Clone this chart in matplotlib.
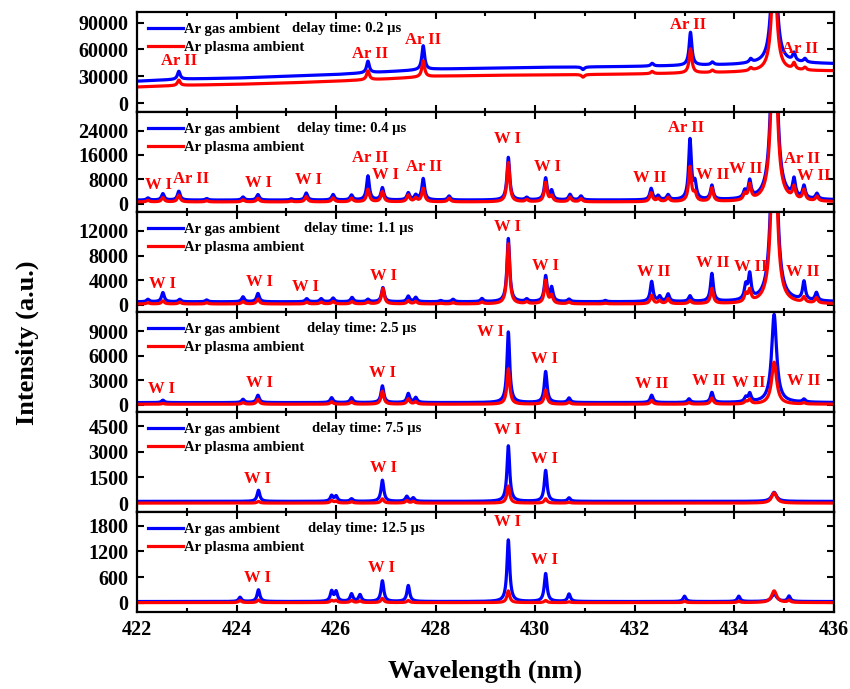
import numpy as np
import matplotlib
matplotlib.use("Agg")
import matplotlib.pyplot as plt
from matplotlib.ticker import MultipleLocator

plt.rcParams['font.family'] = ['Liberation Serif', 'DejaVu Serif']
plt.rcParams['font.weight'] = 'bold'

# delay times of the six panels
delays = ["0.2", "0.4", "1.1", "2.5", "7.5", "12.5"]

# baselines (gas, plasma) read at each integer nm 422..436
base_nm = np.arange(422, 437)
base_gas_02 = [24500, 27000, 28000, 30000, 32000, 35000, 38000, 39000, 40000, 40500, 41000, 42000, 43000, 45000, 44000]
base_pla_02 = [18000, 20000, 21000, 22500, 24500, 27000, 30000, 31000, 31500, 32000, 32500, 33500, 34500, 36000, 36000]
base_gas = [None, 1200, 500, 250, 100, 25]
base_pla = [None, 600, 150, 50, 0, 0]

# peaks: (wavelength nm, height above base for Ar gas, for Ar plasma)
peaks_02 = [(422.84, 9000, 6000), (426.64, 13000, 10000), (427.75, 27000, 18000),
            (430.96, -3000, -3000), (432.35, 3000, 2500), (433.12, 37000, 27000),
            (433.56, 3000, 2500), (434.33, 4000, 3000), (434.80, 150000, 120000),
            (435.20, 9000, 7000), (435.42, 4000, 3000)]
peaks_04 = [(422.22, 700, 500), (422.52, 2100, 1400), (422.84, 2900, 2200), (423.40, 500, 400),
            (424.13, 1000, 700), (424.43, 1800, 1200), (425.10, 400, 300), (425.40, 2300, 1700),
            (425.94, 1800, 1300), (426.31, 1600, 1200), (426.64, 7900, 4100), (426.93, 4000, 3400),
            (427.45, 2300, 2200), (427.60, 1500, 1200), (427.75, 7000, 4400), (428.27, 1300, 1200),
            (429.46, 14000, 12900), (429.83, 800, 700), (430.21, 7100, 6300), (430.33, 2900, 1800),
            (430.70, 1800, 1500), (430.92, 1300, 1000), (432.33, 3700, 2900), (432.47, 1300, 1000),
            (432.67, 1600, 1400), (433.11, 19600, 11300), (433.21, 5000, 2500), (433.55, 4600, 4400),
            (434.21, 2300, 2000), (434.31, 5500, 4900), (434.80, 80000, 70000), (435.20, 5700, 3900),
            (435.40, 4000, 3400), (435.66, 1800, 1500)]
peaks_11 = [(422.22, 400, 200), (422.52, 1500, 500), (422.86, 400, 300), (423.40, 300, 200),
            (424.13, 800, 400), (424.43, 1350, 800), (425.41, 500, 300), (425.70, 500, 300),
            (425.94, 600, 400), (426.32, 700, 400), (426.64, 400, 300), (426.94, 2300, 2500),
            (427.45, 900, 500), (427.60, 700, 400), (428.10, 200, 100), (428.35, 400, 200),
            (428.93, 500, 300), (429.46, 10250, 9750), (429.83, 400, 300), (430.21, 4100, 3750),
            (430.33, 2200, 1300), (430.68, 400, 300), (431.41, 200, 100), (432.34, 3250, 1350),
            (432.50, 800, 500), (432.67, 1200, 800), (433.11, 900, 500), (433.55, 4500, 2450),
            (434.23, 2200, 1300), (434.31, 3950, 1850), (434.80, 40000, 35000), (435.40, 3000, 850),
            (435.65, 1300, 850)]
peaks_25 = [(422.52, 300, 100), (424.13, 400, 200), (424.43, 900, 600), (425.91, 600, 300),
            (426.31, 600, 300), (426.93, 2050, 1600), (427.45, 1100, 650), (427.60, 600, 300),
            (429.46, 8650, 4330), (430.21, 3800, 1730), (430.68, 550, 250), (432.34, 900, 450),
            (433.09, 450, 200), (433.55, 1230, 750), (434.23, 550, 300), (434.31, 1000, 550),
            (434.80, 10800, 5150), (435.40, 350, 150)]
peaks_75 = [(424.44, 650, 100), (425.91, 330, 150), (426.00, 300, 100), (426.31, 150, 80),
            (426.93, 1240, 250), (427.42, 290, 150), (427.55, 200, 100), (429.46, 3250, 1000),
            (430.21, 1810, 250), (430.68, 200, 50), (434.80, 530, 600)]
peaks_125 = [(424.07, 100, 50), (424.44, 275, 60), (425.91, 235, 50), (426.00, 225, 50),
             (426.31, 175, 50), (426.48, 155, 40), (426.93, 485, 100), (427.45, 375, 50),
             (429.46, 1445, 275), (430.21, 655, 50), (430.68, 175, 20), (433.00, 125, 30),
             (434.09, 125, 30), (434.80, 175, 275), (435.10, 125, 50)]

# line identifications: (label, wavelength, height)
labels_02 = [("Ar II", 422.84, 47000), ("Ar II", 426.68, 54400), ("Ar II", 427.75, 71000),
             ("Ar II", 433.07, 87800), ("Ar II", 435.33, 60800)]
labels_04 = [("W I", 422.43, 6000), ("Ar II", 423.09, 8200), ("W I", 424.45, 6900),
             ("W I", 425.44, 7800), ("Ar II", 426.69, 14900), ("W I", 427.00, 9300),
             ("Ar II", 427.76, 12100), ("W I", 429.45, 21300), ("W I", 430.25, 12100),
             ("W II", 432.30, 8600), ("Ar II", 433.04, 24700), ("W II", 433.57, 9400),
             ("W II", 434.24, 11300), ("Ar II", 435.37, 14700), ("W II", 435.60, 9100)]
labels_11 = [("W I", 422.51, 3400), ("W I", 424.47, 3750), ("W I", 425.39, 2950),
             ("W I", 426.95, 4750), ("W I", 429.44, 12650), ("W I", 430.21, 6380),
             ("W II", 432.39, 5290), ("W II", 433.56, 6760), ("W II", 434.33, 6100),
             ("W II", 435.37, 5400)]
labels_25 = [("W I", 422.50, 1860), ("W I", 424.46, 2600), ("W I", 426.93, 3840),
             ("W I", 429.10, 8870), ("W I", 430.18, 5570), ("W II", 432.35, 2480),
             ("W II", 433.49, 2930), ("W II", 434.30, 2690), ("W II", 435.40, 2930)]
labels_75 = [("W I", 424.43, 1420), ("W I", 426.95, 2070), ("W I", 429.44, 4280), ("W I", 430.18, 2600)]
labels_125 = [("W I", 424.43, 580), ("W I", 426.92, 815), ("W I", 429.44, 1880), ("W I", 430.18, 990)]

ylims = [(-10000, 102000), (-2700, 30100), (-1150, 15060), (-900, 11350), (-520, 5330), (-220, 2125)]
yticks = [[0, 30000, 60000, 90000], [0, 8000, 16000, 24000], [0, 4000, 8000, 12000],
          [0, 3000, 6000, 9000], [0, 1500, 3000, 4500], [0, 600, 1200, 1800]]

all_peaks = [peaks_02, peaks_04, peaks_11, peaks_25, peaks_75, peaks_125]
all_labels = [labels_02, labels_04, labels_11, labels_25, labels_75, labels_125]

wl = np.linspace(422, 436, 2801)


def spectrum(base, peaks, col):
    y = np.array(base, dtype=float) * np.ones_like(wl)
    for p in peaks:
        g = 0.06 if p[0] == 434.80 else 0.033
        y += p[col] / (1 + ((wl - p[0]) / g) ** 2)
    return y


fig = plt.figure(figsize=(8.5, 6.89), dpi=100)
gs = fig.add_gridspec(6, 1, left=0.1612, right=0.981, top=0.9826, bottom=0.1118, hspace=0)
axes = [fig.add_subplot(gs[i]) for i in range(6)]

dx = [0.222, 0.2296, 0.2396, 0.244, 0.251, 0.245]

for i, ax in enumerate(axes):
    if i == 0:
        bg = np.interp(wl, base_nm, base_gas_02)
        bp = np.interp(wl, base_nm, base_pla_02)
    else:
        bg, bp = base_gas[i], base_pla[i]
    ax.plot(wl, spectrum(bg, all_peaks[i], 1), color='#0000ff', lw=2.3, label='Ar gas ambient')
    ax.plot(wl, spectrum(bp, all_peaks[i], 2), color='#ff0000', lw=2.3, label='Ar plasma ambient')
    for lab, x, y in all_labels[i]:
        ax.text(x, y, lab, color='#ff0000', fontsize=12, fontweight='bold', ha='center', va='center')
    ax.text(dx[i], 0.835, "delay time: " + delays[i] + " µs", transform=ax.transAxes,
            fontsize=10.5, fontweight='bold', va='center', ha='left')
    ax.legend(loc='upper left', frameon=False, fontsize=10.5, handlelength=2.4,
              handletextpad=0.1, labelspacing=0.35, borderaxespad=0.3, borderpad=0.45)
    ax.set_xlim(422, 436)
    ax.set_ylim(*ylims[i])
    ax.set_yticks(yticks[i])
    ax.xaxis.set_major_locator(MultipleLocator(2))
    ax.xaxis.set_minor_locator(MultipleLocator(1))
    ax.tick_params(which='both', direction='in', top=True, right=True, width=1.5,
                   labelsize=14.5, pad=6)
    ax.tick_params(which='major', length=5)
    ax.tick_params(which='minor', length=3)
    for s in ax.spines.values():
        s.set_linewidth(1.6)
    if i < 5:
        ax.tick_params(labelbottom=False)

fig.text(0.032, 0.503, "Intensity (a.u.)", rotation=90, fontsize=19, fontweight='bold',
         ha='center', va='center')
fig.text(0.571, 0.025, "Wavelength (nm)", fontsize=19, fontweight='bold', ha='center', va='center')

fig.savefig("out.png", dpi=100)
